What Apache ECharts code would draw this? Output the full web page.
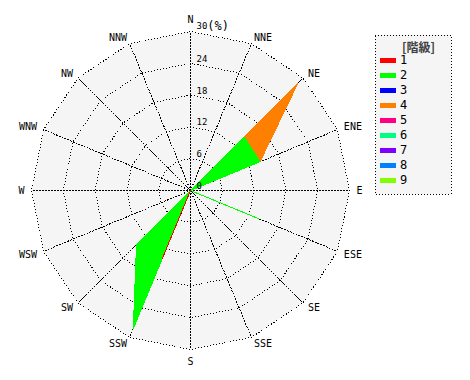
<!DOCTYPE html>
<html><head><meta charset="utf-8">
<script src="https://cdn.jsdelivr.net/npm/echarts@6/dist/echarts.min.js"></script>
<style>html,body{margin:0;padding:0;background:#fff}#c{width:470px;height:380px}
#c svg path, #c svg polygon, #c svg polyline, #c svg line, #c svg rect{shape-rendering:crispEdges}</style>
</head><body><div id="c"></div>
<script>
// Directions, clockwise starting from North
var directions = ['N','NNE','NE','ENE','E','ESE','SE','SSE','S','SSW','SW','WSW','W','WNW','NW','NNW'];
var classNames = ['1','2','3','4','5','6','7','8','9'];
var classColors = ['#ff0000','#00ff00','#0000ff','#ff8000','#ff0080','#00ff80','#8000ff','#0080ff','#80ff00'];
// Frequency (%) per class, per direction (clockwise from N)
var class1 = [0,0,0,0,0,0,0,0,0,14.0,0,0,0,0,0,0];
var class2 = [0,0,14.3,14.2,0,14.0,0,0,0,14.2,14.4,0,0,0,0,0];
var class3 = [0,0,0,0,0,0,0,0,0,0,0,0,0,0,0,0];
var class4 = [0,0,14.4,0,0,0,0,0,0,0,0,0,0,0,0,0];
var class5 = [0,0,0,0,0,0,0,0,0,0,0,0,0,0,0,0];
var class6 = [0,0,0,0,0,0,0,0,0,0,0,0,0,0,0,0];
var class7 = [0,0,0,0,0,0,0,0,0,0,0,0,0,0,0,0];
var class8 = [0,0,0,0,0,0,0,0,0,0,0,0,0,0,0,0];
var class9 = [0,0,0,0,0,0,0,0,0,0,0,0,0,0,0,0];
var radiusTicks = [0,6,12,18,24,30];
var radiusTickLabels = ['0','6','12','18','24','30 (%)'];
var legendTitle = '[階級]';

var classes = [class1,class2,class3,class4,class5,class6,class7,class8,class9];
// radar places indicators counter-clockwise; reorder so they run clockwise
var order = [0];
for (var i = directions.length - 1; i >= 1; i--) order.push(i);
function reorder(arr){ return order.map(function(k){ return arr[k]; }); }

var cum = [], run = directions.map(function(){return 0;});
classes.forEach(function(c){
  run = run.map(function(v,k){ return +(v + c[k]).toFixed(3); });
  cum.push(run.slice());
});

var mono = 'DejaVu Sans Mono';
var spoke = {color:'#000', width:1, type:[1,2]};
var ring = {color:'#000', width:1, type:[1,2]};
var series = [];
for (var ci = classes.length - 1; ci >= 0; ci--) {
  var any = classes[ci].some(function(v){return v>0;});
  series.push({
    type:'radar', name:classNames[ci], symbol:'none', z:3,
    itemStyle:{color:classColors[ci]},
    lineStyle:{color:classColors[ci], width:1, opacity: any?1:0},
    areaStyle:{color:classColors[ci], opacity: any?1:0},
    data:[{value: reorder(cum[ci]), name: classNames[ci]}]
  });
}
var cx = 190.5, cy = 190.5, R = 159;

var chart = echarts.init(document.getElementById('c'), null, {renderer:'svg'});
chart.setOption({
  animation:false,
  backgroundColor:'#fff',
  title:{text:legendTitle, left:397, top:35, textStyle:{fontFamily:'Noto Sans CJK JP', fontSize:12, fontWeight:'bold', color:'#404040'}},
  legend:{
    orient:'vertical', left:375, top:35,
    data: classNames,
    itemWidth:16, itemHeight:5, itemGap:3, icon:'rect',
    padding:[19,44,8,5],
    backgroundColor:'#f5f5f5', borderColor:'#000', borderWidth:1, borderType:[1,2],
    textStyle:{fontFamily:mono, fontSize:12, color:'#000', lineHeight:12, padding:[0,0,0,-1]},
    selectedMode:false
  },
  radar:{
    center:[cx,cy], radius:R, startAngle:90, shape:'polygon', splitNumber:5,
    indicator: reorder(directions).map(function(d){ return {name:d, min:0, max:30}; }),
    axisName:{color:'#000', fontFamily:mono, fontSize:10},
    nameGap:7,
    axisLine:{lineStyle:spoke},
    splitLine:{lineStyle:ring},
    splitArea:{show:true, areaStyle:{color:['#f5f5f5']}},
    axisLabel:{show:false}
  },
  polar:{center:[cx,cy], radius:R},
  angleAxis:{type:'value', min:0, max:360, startAngle:90, show:false,
    axisLine:{show:false}, axisTick:{show:false}, axisLabel:{show:false}, splitLine:{show:false}, splitArea:{show:false}},
  radiusAxis:{
    type:'value', min:0, max:30, interval:6, z:10,
    axisLine:{show:false}, axisTick:{show:false}, splitLine:{show:false}, splitArea:{show:false},
    axisLabel:{fontFamily:mono, fontSize:9, color:'#000', align:'left', verticalAlign:'bottom', margin:-6,
      formatter:function(v){
        var k = radiusTicks.indexOf(v); if (k < 0) return '';
        var parts = radiusTickLabels[k].split(' ');
        return parts.length > 1 ? parts[0] + '{u|' + parts.slice(1).join(' ') + '}' : parts[0];
      },
      rich:{u:{fontFamily:mono, fontSize:12, color:'#000', verticalAlign:'bottom'}}}
  },
  series: series
});
</script></body></html>
